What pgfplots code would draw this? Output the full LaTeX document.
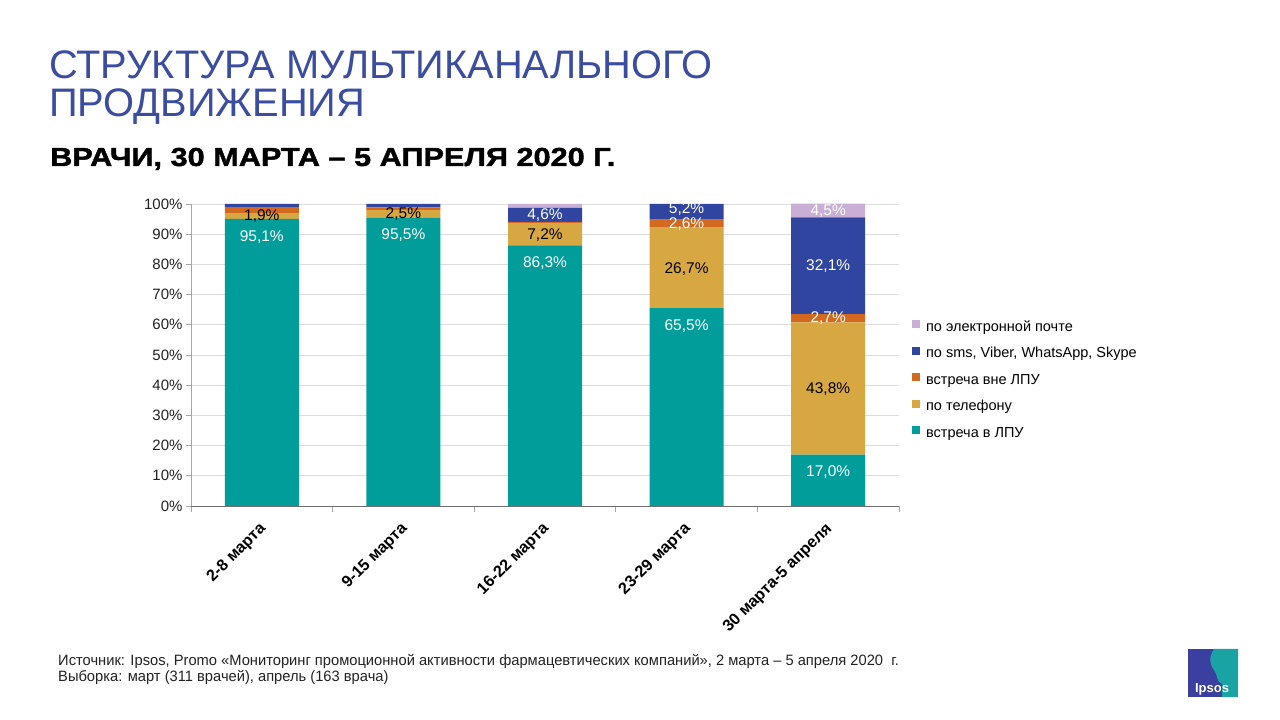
\documentclass[border=0pt]{standalone}
\usepackage{pgfplots}
\pgfplotsset{compat=1.18}
\usepackage{pgfplotstable}
\usepackage{fontspec}
\setmainfont{Liberation Sans}
\newfontfamily\heavyfont{Liberation Sans}[FakeBold=1.6, FakeStretch=1.18]
\definecolor{cTeal}{HTML}{009D9A}
\definecolor{cGold}{HTML}{D7A842}
\definecolor{cOrange}{HTML}{D2691E}
\definecolor{cBlue}{HTML}{2F45A0}
\definecolor{cLilac}{HTML}{C9AFD6}
\definecolor{cTitle}{HTML}{3A4DA0}
\definecolor{cGrid}{HTML}{DDDDDD}
\definecolor{cAxisY}{HTML}{A6A6A6}
\definecolor{cAxisX}{HTML}{6F6F6F}
\definecolor{cText}{HTML}{222222}
\definecolor{cLogoBlue}{HTML}{3B3FA0}
\definecolor{cLogoTeal}{HTML}{1AA3A3}

\pgfplotstableread{
x teal tel out sms mail
0 95.1 1.9 2.0 1.0 0.0
1 95.5 2.5 0.9 1.1 0.0
2 86.3 7.2 0.6 4.6 1.3
3 65.5 26.7 2.6 5.2 0.0
4 17.0 43.8 2.7 32.1 4.5
}\bardata

\pgfplotstableread{
x y lab
0 89.2 95,1
1 89.6 95,5
2 80.4 86,3
3 59.6 65,5
4 11.2 17,0
2 96.3 4,6
3 98.3 5,2
3 93.3 2,6
4 97.75 4,5
4 79.55 32,1
4 62.15 2,7
}\whitelabels

\pgfplotstableread{
x y lab
0 96.0 1,9
1 96.6 2,5
2 89.7 7,2
3 78.6 26,7
4 38.7 43,8
}\blacklabels

\begin{document}
\begin{tikzpicture}[x=1pt,y=1pt]
\useasboundingbox (0,0) rectangle (1280,720);
\fill[white] (0,0) rectangle (1280,720);

% titles
\node[anchor=base west, inner sep=0pt, text=cTitle, font=\fontsize{39.8}{39.8}\selectfont] at (49,641) {СТРУКТУРА МУЛЬТИКАНАЛЬНОГО};
\node[anchor=base west, inner sep=0pt, text=cTitle, font=\fontsize{39.8}{39.8}\selectfont] at (49,603) {ПРОДВИЖЕНИЯ};
\node[anchor=base west, inner sep=0pt, text=black, font=\fontsize{26}{26}\heavyfont\bfseries] at (50,554) {ВРАЧИ, 30 МАРТА – 5 АПРЕЛЯ 2020 Г.};

\begin{axis}[
  at={(191pt,214pt)}, anchor=south west,
  width=708pt, height=302pt, scale only axis,
  ybar stacked, bar width=74pt,
  xmin=-0.5, xmax=4.5, ymin=0, ymax=100,
  /pgf/number format/assume math mode=true,
  ytick={0,10,...,100},
  yticklabel={\pgfmathprintnumber{\tick}\%},
  ymajorgrids, grid style={draw=cGrid, line width=0.8pt},
  xtick={0,1,2,3,4},
  xticklabels={2-8 марта, 9-15 марта, 16-22 марта, 23-29 марта, 30 марта-5 апреля},
  minor xtick={-0.5,0.5,1.5,2.5,3.5,4.5},
  major x tick style={draw=none},
  minor x tick style={draw=cAxisY, line width=0.8pt},
  ytick style={draw=cAxisY, line width=0.8pt},
  tick align=outside, major tick length=5pt, minor tick length=6pt,
  axis x line*=bottom, axis y line*=left,
  x axis line style={draw=cAxisX, line width=0.9pt, -},
  y axis line style={draw=cAxisY, line width=0.8pt, -},
  yticklabel style={font=\fontsize{15}{15}\selectfont, text=cText},
  xticklabel style={font=\bfseries\fontsize{16.2}{16.2}\selectfont, text=black, anchor=east, xshift=4pt, yshift=-13pt, rotate=45},
  legend style={at={(1.014,0.6225)}, anchor=north west, draw=none, fill=none,
    font=\fontsize{14.5}{14.5}\selectfont, row sep=12.5pt,
    nodes={inner sep=0pt, text height=10pt, text depth=3pt, anchor=west},
    /tikz/every odd column/.style={column sep=6pt}},
  legend cell align=left, reverse legend,
  legend image code/.code={\fill[#1] (0pt,-0.5pt) rectangle (8pt,7.5pt);},
]
\addplot[fill=cTeal, draw=none] table[x=x,y=teal]{\bardata};
\addlegendentry{встреча в ЛПУ}
\addplot[fill=cGold, draw=none] table[x=x,y=tel]{\bardata};
\addlegendentry{по телефону}
\addplot[fill=cOrange, draw=none] table[x=x,y=out]{\bardata};
\addlegendentry{встреча вне ЛПУ}
\addplot[fill=cBlue, draw=none] table[x=x,y=sms]{\bardata};
\addlegendentry{по sms, Viber, WhatsApp, Skype}
\addplot[fill=cLilac, draw=none] table[x=x,y=mail]{\bardata};
\addlegendentry{по электронной почте}
\end{axis}

\begin{axis}[
  at={(191pt,214pt)}, anchor=south west,
  width=708pt, height=302pt, scale only axis,
  xmin=-0.5, xmax=4.5, ymin=0, ymax=100,
  hide axis, clip=false,
]
\addplot[draw=none, mark=none, nodes near coords={\pgfplotspointmeta\%}, point meta=explicit symbolic,
  nodes near coords align=center,
  every node near coord/.append style={text=white, font=\fontsize{15.5}{15.5}\selectfont, inner sep=0pt}]
  table[x=x,y=y,meta=lab]{\whitelabels};
\addplot[draw=none, mark=none, nodes near coords={\pgfplotspointmeta\%}, point meta=explicit symbolic,
  nodes near coords align=center,
  every node near coord/.append style={text=black, font=\fontsize{15.5}{15.5}\selectfont, inner sep=0pt}]
  table[x=x,y=y,meta=lab]{\blacklabels};
\end{axis}

% footnote
\node[anchor=base west, inner sep=0pt, font=\fontsize{15}{15}\selectfont, text=cText] at (58,54) {\scalebox{0.98}[1]{Источник: Ipsos, Promo «Мониторинг промоционной активности фармацевтических компаний», 2 марта – 5 апреля 2020~ г.}};
\node[anchor=base west, inner sep=0pt, font=\fontsize{15}{15}\selectfont, text=cText] at (58,38) {\scalebox{0.98}[1]{Выборка: март (311 врачей), апрель (163 врача)}};

% logo
\fill[cLogoBlue] (1188,23) rectangle (1238,71);
\fill[cLogoTeal] (1214,71) .. controls (1208,62) and (1210,55) .. (1214,50) .. controls (1218,45) and (1216,38) .. (1222,36) -- (1238,36) -- (1238,71) -- cycle;
\fill[cLogoTeal] (1222,23) rectangle (1238,36);
\node[text=white, font=\bfseries\fontsize{13}{13}\selectfont, inner sep=0pt] at (1212,31) {Ipsos};
\end{tikzpicture}
\end{document}
